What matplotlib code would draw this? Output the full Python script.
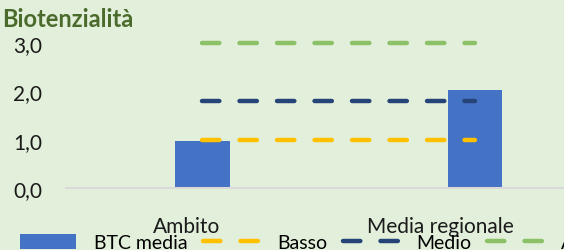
import matplotlib.pyplot as plt
from matplotlib.lines import Line2D
from matplotlib.patches import Patch

plt.rcParams['font.family'] = ['Lato', 'DejaVu Sans']
plt.rcParams['lines.scale_dashes'] = False

# data
categorie = ['Ambito', 'Media regionale']
btc_media = [0.98, 2.03]
basso = [1.0, 1.0]
medio = [1.8, 1.8]
alto = [3.0, 3.0]
yticks = [0.0, 1.0, 2.0, 3.0]

bg = '#E2EFDA'
c_bar = '#4472C4'
c_basso = '#FFC000'
c_medio = '#264478'
c_alto = '#8CC168'
fs = 15

fig = plt.figure(figsize=(5.64, 2.51), dpi=100, facecolor=bg)
ax = fig.add_axes([66/564, 62/251, 545/564, 145/251], facecolor=bg)

x = list(range(len(categorie)))
ax.bar(x, btc_media, width=0.2, color=c_bar, zorder=2)

dash = dict(lw=3.2, dashes=(12.5, 14.5), dash_capstyle='round')
ax.plot(x, basso, color=c_basso, clip_on=False, zorder=3, **dash)
ax.plot(x, medio, color=c_medio, clip_on=False, zorder=3, **dash)
ax.plot(x, alto, color=c_alto, clip_on=False, zorder=3, **dash)

ax.set_xlim(-0.5, 1.5)
ax.set_ylim(0, 3.0)
ax.set_yticks(yticks)
ax.set_yticklabels([f'{v:.1f}'.replace('.', ',') for v in yticks], fontsize=fs, color='#1a1a1a')
ax.tick_params(axis='y', length=0, pad=17)
ax.set_xticks([])
for s in ['top', 'right', 'left']:
    ax.spines[s].set_visible(False)
ax.spines['bottom'].set_color('#D9D9D9')
ax.spines['bottom'].set_linewidth(1.5)

# category labels (shifted like in the original)
offs = [-0.056, -0.125]
for i, name in enumerate(categorie):
    ax.text(i + offs[i], -0.19, name, ha='center', va='top', fontsize=fs,
            color='#1a1a1a', transform=ax.get_xaxis_transform())

fig.text(2/564, 1 - 8/251, 'Biotenzialità', fontsize=17, fontweight='bold',
         color='#4A6B2C', ha='left', va='top')

handles = [
    Patch(facecolor=c_bar),
    Line2D([], [], color=c_basso, **dash),
    Line2D([], [], color=c_medio, **dash),
    Line2D([], [], color=c_alto, **dash),
]
labels = ['BTC media', 'Basso', 'Medio', 'Alto']
fig.legend(handles, labels, loc='lower left', bbox_to_anchor=(20/564, -1/251),
           ncol=4, frameon=False, fontsize=14, handlelength=2.9, handleheight=0.8,
           handletextpad=0.9, columnspacing=0.8, borderaxespad=0, borderpad=0)

fig.savefig('out.png', dpi=100, facecolor=bg)
